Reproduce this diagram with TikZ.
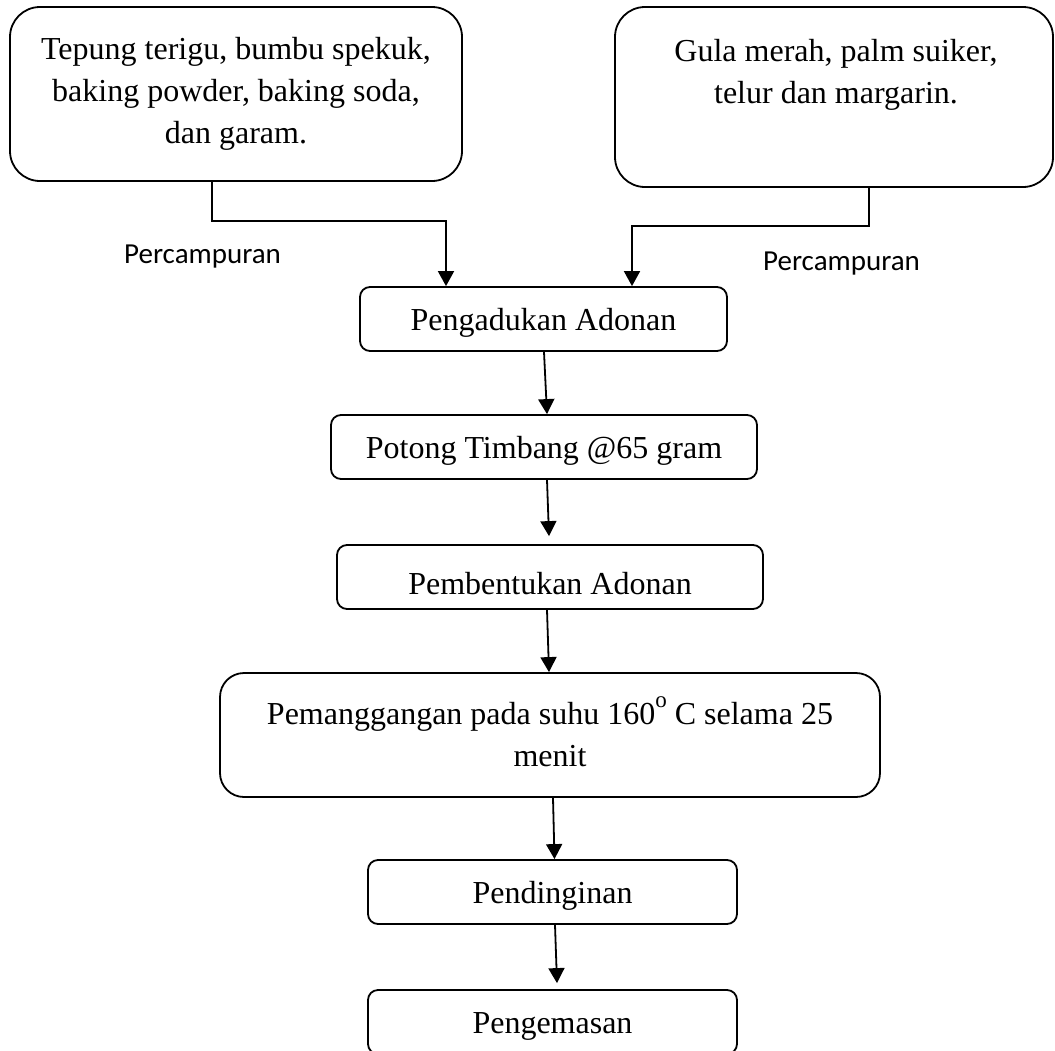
\documentclass[tikz,border=0pt]{standalone}
\usepackage{fontspec}
\setmainfont{Liberation Serif}
\newfontfamily\calfont{Carlito}
\usetikzlibrary{arrows.meta}
\begin{document}
\begin{tikzpicture}[x=1pt,y=-1pt,
  box/.style={draw, line width=1.8pt, rounded corners=10pt, inner sep=0pt,
    font=\fontsize{32}{42}\selectfont, align=center},
  bigbox/.style={box, rounded corners=30pt},
  one/.style={text height=22pt, text depth=0pt},
  txt/.style={inner sep=0pt, font=\fontsize{32}{42}\selectfont, align=center},
  arr/.style={line width=1.8pt, -{Triangle[width=16pt,length=15pt]}},
  lbl/.style={font=\calfont\fontsize{29}{34}\selectfont, inner sep=0pt}]
\useasboundingbox (0,0) rectangle (1055,1050);

\node[bigbox, minimum width=452pt, minimum height=174pt] (A) at (236,94)
  {Tepung terigu, bumbu spekuk,\\ baking powder, baking soda,\\ dan garam.};
\node[bigbox, minimum width=438pt, minimum height=180pt] (B) at (834,97) {};
\node[txt, anchor=north] (Bt) at (836,39) {Gula merah, palm suiker,\\ telur dan margarin.};

\node[box, one, minimum width=367pt, minimum height=64pt] (C) at (543.5,319) {Pengadukan Adonan};
\node[box, one, minimum width=426pt, minimum height=64pt] (D) at (544,447) {Potong Timbang @65 gram};
\node[box, text height=34pt, text depth=0pt, minimum width=426pt, minimum height=64pt] (E) at (550,577) {Pembentukan Adonan};
\node[box, rounded corners=24pt, minimum width=660pt, minimum height=124pt] (F) at (550,735)
  {Pemanggangan pada suhu 160\raisebox{17pt}[0pt][0pt]{\fontsize{23}{23}\selectfont o} C selama 25\\ menit};
\node[box, one, minimum width=369pt, minimum height=64pt] (G) at (552.5,892) {Pendinginan};
\node[box, one, minimum width=369pt, minimum height=64pt] (H) at (552.5,1022) {Pengemasan};

\node[lbl, anchor=base] (pl) at (202.5,263) {Percampuran};
\node[lbl, anchor=base] (pr) at (841.5,270) {Percampuran};

\coordinate (jl) at (446,221);
\coordinate (jr) at (632,226);
\draw[arr] ([xshift=-24pt]A.south) |- (jl) -- (jl |- C.north);
\draw[arr] ([xshift=35pt]B.south) |- (jr) -- (jr |- C.north);

\draw[arr] ([xshift=0.5pt]C.south) -- ([xshift=3pt]D.north);
\draw[arr] ([xshift=3pt]D.south) -- ([xshift=-1pt,yshift=8pt]E.north);
\draw[arr] ([xshift=-3pt]E.south) -- ([xshift=-1pt]F.north);
\draw[arr] ([xshift=3pt]F.south) -- ([xshift=2pt]G.north);
\draw[arr] ([xshift=2.5pt]G.south) -- ([xshift=4.5pt,yshift=6pt]H.north);
\end{tikzpicture}
\end{document}
